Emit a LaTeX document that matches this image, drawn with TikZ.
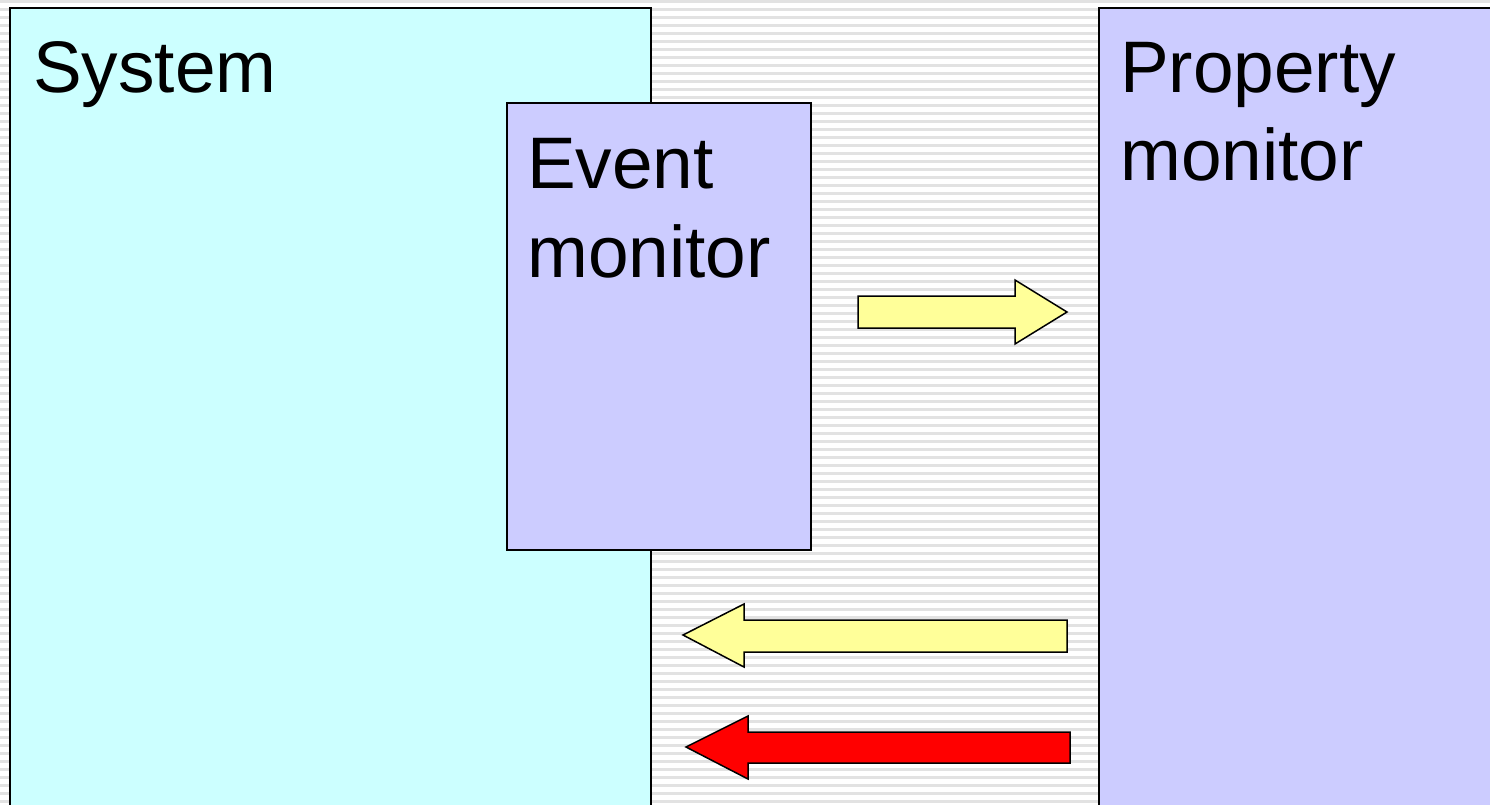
\documentclass[tikz,border=0pt]{standalone}
\usepackage{fontspec}
\setmainfont{Liberation Sans}
\usepackage{tikz}

\definecolor{syscyan}{HTML}{CCFFFF}
\definecolor{monviolet}{HTML}{CCCCFF}
\definecolor{arrowyellow}{HTML}{FFFF99}
\definecolor{stripegray}{HTML}{E2E2E2}

\tikzset{
  boxframe/.style={draw=black, line width=2pt},
  blockarrow/.style={draw=black, line width=1.5pt, line join=miter},
  boxlabel/.style={inner sep=0pt, align=left, font=\fontsize{73}{89}\selectfont}
}

\begin{document}
\begin{tikzpicture}[x=1pt,y=-1pt]
\useasboundingbox (0,0) rectangle (1490,804);
\fill[white] (0,0) rectangle (1490,804);
\foreach \k in {0,...,100}
  \fill[stripegray] (0,8*\k) rectangle (1490,8*\k+2.5);
% the three boxes
\draw[boxframe, fill=syscyan] (10,8) rectangle (651,820);
\draw[boxframe, fill=monviolet] (1099,8) rectangle (1500,820);
\draw[boxframe, fill=monviolet] (507,103) rectangle (811,550);
\node[boxlabel, anchor=base west] (system) at (33,92) {System};
\node[boxlabel, anchor=base west] (event) at (527,188) {Event};
\node[boxlabel, anchor=base west] (eventb) at (527,277) {monitor};
\node[boxlabel, anchor=base west] (property) at (1120,92) {Property};
\node[boxlabel, anchor=base west] (propertyb) at (1120,180) {monitor};
% arrows
\draw[blockarrow, fill=arrowyellow] (858,296) -- (1015,296) -- (1015,280) -- (1067,312)
  -- (1015,344) -- (1015,328) -- (858,328) -- cycle;
\draw[blockarrow, fill=arrowyellow] (1067,620) -- (744,620) -- (744,604) -- (683,635)
  -- (744,667) -- (744,652) -- (1067,652) -- cycle;
\draw[blockarrow, fill=red] (1070,732) -- (748,732) -- (748,716) -- (686,747)
  -- (748,779) -- (748,763) -- (1070,763) -- cycle;
\end{tikzpicture}
\end{document}
